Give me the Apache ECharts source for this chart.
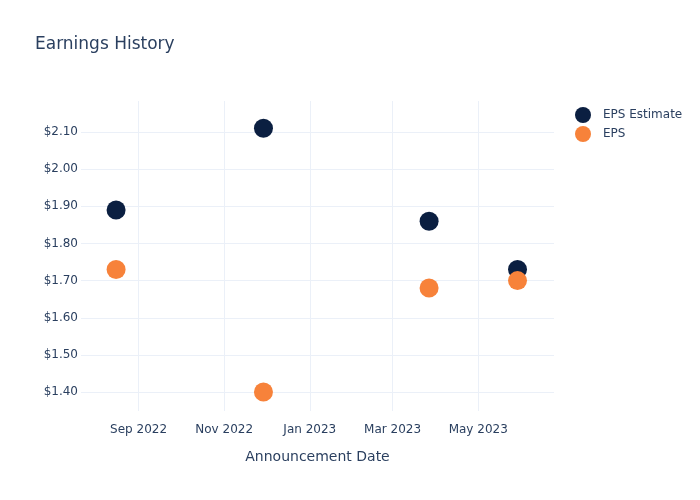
<!DOCTYPE html>
<html><head><meta charset="utf-8">
<script src="https://cdn.jsdelivr.net/npm/echarts@6/dist/echarts.min.js"></script>
<style>html,body{margin:0;padding:0;background:#fff}#c{width:700px;height:500px}</style>
</head><body><div id="c"></div>
<script>
const dates = ['2022-08-16', '2022-11-29', '2023-03-27', '2023-05-29'];
const epsEstimate = [1.89, 2.11, 1.86, 1.73];
const eps = [1.73, 1.40, 1.68, 1.70];
const xTicks = ['2022-09-01', '2022-11-01', '2023-01-01', '2023-03-01', '2023-05-01'];
const yTicks = [1.40, 1.50, 1.60, 1.70, 1.80, 1.90, 2.00, 2.10];
const monthNames = ['Jan','Feb','Mar','Apr','May','Jun','Jul','Aug','Sep','Oct','Nov','Dec'];

const ts = s => { const [y,m,d] = s.split('-').map(Number); return Date.UTC(y, m-1, d); };
const xTickTs = xTicks.map(ts);
const txt = '#2a3f5f', grid = '#ebf0f8';
const font = '"DejaVu Sans", Verdana, sans-serif';

const chart = echarts.init(document.getElementById('c'), null, {renderer: 'canvas'});
chart.setOption({
  animation: false,
  textStyle: {fontFamily: font},
  title: {text: 'Earnings History', left: 35, top: 36, padding: 0,
    textStyle: {fontSize: 17, fontWeight: 'normal', color: txt, fontFamily: font}},
  legend: {orient: 'vertical', left: 570, top: 102, itemGap: 3,
    icon: 'circle', itemWidth: 16, itemHeight: 16,
    textStyle: {fontSize: 12, color: txt, fontFamily: font, padding: [0, 0, 0, 7]},
    data: ['EPS Estimate', 'EPS']},
  grid: {left: 81, right: 146, top: 101, bottom: 89, containLabel: false},
  xAxis: {type: 'value', min: ts('2022-07-22'), max: ts('2023-06-24'),
    name: 'Announcement Date', nameLocation: 'middle', nameGap: 39,
    nameTextStyle: {fontSize: 14, color: txt, fontFamily: font},
    axisLine: {show: false},
    axisTick: {show: false, customValues: xTickTs},
    axisLabel: {customValues: xTickTs, margin: 13, fontSize: 12, color: txt, fontFamily: font,
      formatter: v => { const d = new Date(v); return monthNames[d.getUTCMonth()] + ' ' + d.getUTCFullYear(); }},
    splitLine: {show: true, lineStyle: {color: grid, width: 1}}},
  yAxis: {type: 'value', min: 1.349, max: 2.1835,
    axisLine: {show: false},
    axisTick: {show: false, customValues: yTicks},
    axisLabel: {customValues: yTicks, margin: 3, fontSize: 12, color: txt, fontFamily: font,
      formatter: v => '$' + v.toFixed(2)},
    splitLine: {show: true, lineStyle: {color: grid, width: 1}}},
  series: [
    {name: 'EPS Estimate', type: 'scatter', symbolSize: 19,
      itemStyle: {color: '#0b1f41', opacity: 1},
      data: dates.map((d, i) => [ts(d), epsEstimate[i]])},
    {name: 'EPS', type: 'scatter', symbolSize: 19,
      itemStyle: {color: '#f7823a', opacity: 1},
      data: dates.map((d, i) => [ts(d), eps[i]])}
  ]
});
</script></body></html>
